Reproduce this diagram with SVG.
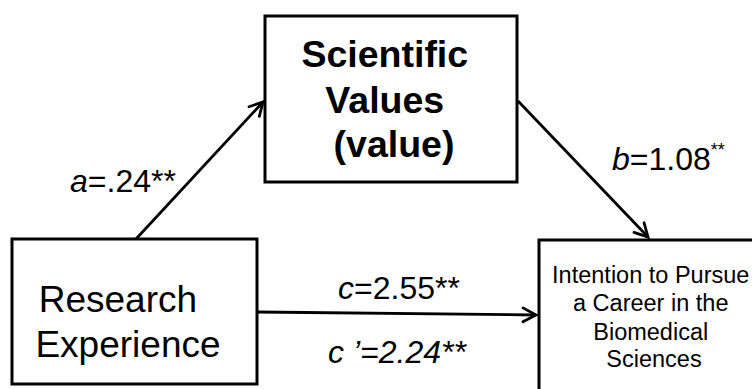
<svg xmlns="http://www.w3.org/2000/svg" width="752" height="389" viewBox="0 0 752 389">
<defs>
<style>
.box{fill:#fff;stroke:#000;stroke-width:3}
.t{font-family:"Liberation Sans",Arial,sans-serif;fill:#000}
.conn{stroke:#000;stroke-width:2.8;fill:none}
</style>
<marker id="arr" markerUnits="userSpaceOnUse" markerWidth="20" markerHeight="20" viewBox="-16 -10 20 20" refX="0" refY="0" orient="auto">
<path d="M-13,-7 L0,0 L-13,7" fill="none" stroke="#000" stroke-width="2.8" stroke-linecap="round" stroke-linejoin="miter"/>
</marker>
</defs>
<rect width="752" height="389" fill="#fff"/>
<g id="connectors">
<line class="conn" x1="136" y1="239" x2="263" y2="102" marker-end="url(#arr)"/>
<line class="conn" x1="518" y1="101" x2="648" y2="237" marker-end="url(#arr)"/>
<line class="conn" x1="257" y1="312" x2="536" y2="315" marker-end="url(#arr)"/>
</g>
<g id="node-values">
<rect class="box" x="265" y="16" width="252" height="166"/>
<text class="t" font-size="37.5" font-weight="bold" text-anchor="middle">
<tspan x="390" y="67">Scientific</tspan>
<tspan x="390" y="113">Values</tspan>
<tspan x="394" y="157">(value)</tspan>
</text>
</g>
<g id="node-research">
<rect class="box" x="12" y="239" width="245" height="145"/>
<text class="t" font-size="37" text-anchor="middle">
<tspan x="123" y="312">Research</tspan>
<tspan x="128" y="357">Experience</tspan>
</text>
</g>
<g id="node-intention">
<rect class="box" x="539" y="240" width="240" height="170"/>
<text class="t" font-size="23.5" text-anchor="middle">
<tspan x="654" y="283">Intention to Pursue</tspan>
<tspan x="654" y="311">a Career in the</tspan>
<tspan x="654" y="340">Biomedical</tspan>
<tspan x="654" y="367">Sciences</tspan>
</text>
</g>
<g id="labels">
<text class="t" font-size="32" x="70" y="192"><tspan font-style="italic">a</tspan>=.24**</text>
<text class="t" font-size="32" x="612" y="170"><tspan font-style="italic">b</tspan>=1.08<tspan font-size="18" dy="-14">**</tspan></text>
<text class="t" font-size="32" x="338" y="299"><tspan font-style="italic">c</tspan>=2.55**</text>
<text class="t" font-size="32" x="328" y="363" font-style="italic">c ’=2.24**</text>
</g>
</svg>
